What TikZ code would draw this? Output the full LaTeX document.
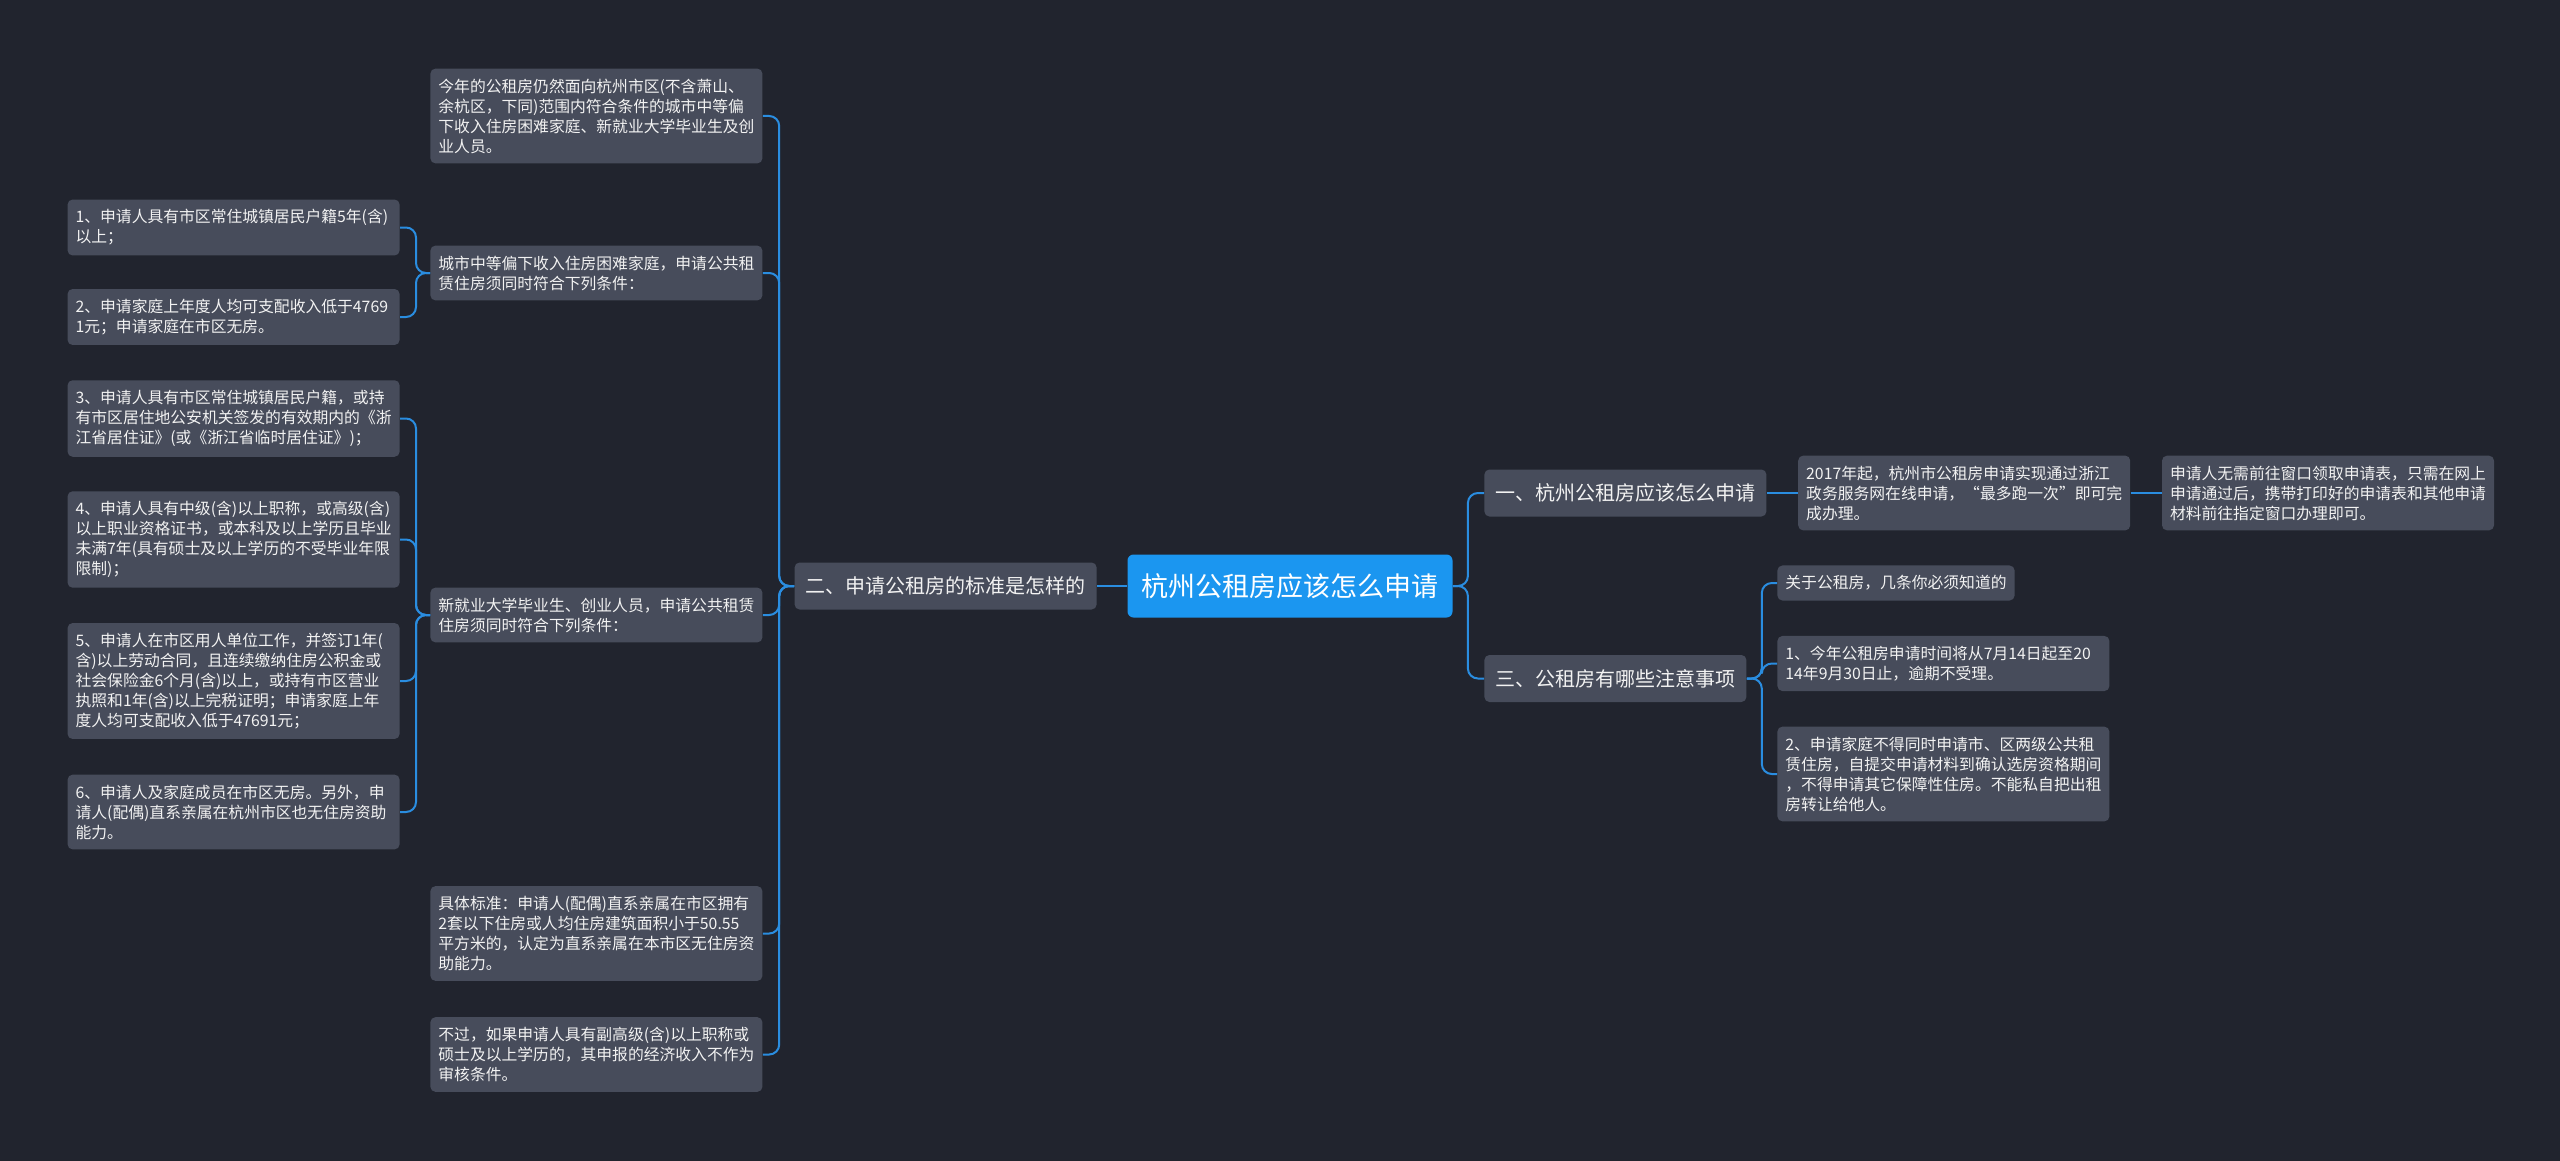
\documentclass[tikz,border=0pt]{standalone}
\usepackage{fontspec}
\setmainfont{Noto Sans CJK SC}
\usepackage{tikz}
\usetikzlibrary{positioning}
\definecolor{mmbg}{HTML}{21242E}
\definecolor{mmbox}{HTML}{474C5B}
\definecolor{mmroot}{HTML}{1B96F0}
\definecolor{mmline}{HTML}{2A8DE0}
\definecolor{mmtext}{HTML}{F2F2F2}

\begin{document}
\begin{tikzpicture}[x=0.5pt, y=-0.5pt,
  box/.style={fill=mmbox, rounded corners=2.5pt, text=mmtext, inner xsep=4pt, inner ysep=5pt,
              align=left, font=\fontsize{7.9pt}{10pt}\selectfont},
  leaf/.style={box, text width=158pt},
  topic/.style={fill=mmbox, rounded corners=2.5pt, text=mmtext, inner xsep=5.5pt,
                minimum height=23.5pt, font=\fontsize{10pt}{12pt}\selectfont},
  root/.style={fill=mmroot, rounded corners=3pt, text=white, inner xsep=7pt,
               minimum height=31.5pt, font=\fontsize{13.5pt}{16pt}\selectfont},
  link/.style={draw=mmline, line width=1pt, rounded corners=5pt}]
  \fill[mmbg] (0,0) rectangle (2560,1161);
  \useasboundingbox (0,0) rectangle (2560,1161);

  % centre and first level
  \node[root] (root) at (1290,586) {杭州公租房应该怎么申请};
  \node[topic, anchor=east] (q2) at (1097,586) {二、申请公租房的标准是怎样的};
  \node[topic, anchor=west] (q1) at (1484,493) {一、杭州公租房应该怎么申请};
  \node[topic, anchor=west] (q3) at (1484,678.5) {三、公租房有哪些注意事项};

  % left side
  \node[leaf, anchor=west] (a1) at (430,116) {今年的公租房仍然面向杭州市区(不含萧山、\\余杭区，下同)范围内符合条件的城市中等偏\\下收入住房困难家庭、新就业大学毕业生及创\\业人员。};
  \node[leaf, anchor=west] (a2) at (430,273) {城市中等偏下收入住房困难家庭，申请公共租\\赁住房须同时符合下列条件：};
  \node[leaf, anchor=west] (a3) at (430,615) {新就业大学毕业生、创业人员，申请公共租赁\\住房须同时符合下列条件：};
  \node[leaf, anchor=west] (a4) at (430,933.5) {具体标准：申请人(配偶)直系亲属在市区拥有\\2套以下住房或人均住房建筑面积小于50.55\\平方米的，认定为直系亲属在本市区无住房资\\助能力。};
  \node[leaf, anchor=west] (a5) at (430,1054.5) {不过，如果申请人具有副高级(含)以上职称或\\硕士及以上学历的，其申报的经济收入不作为\\审核条件。};

  \node[leaf, anchor=east] (c1) at (400,227.5) {1、申请人具有市区常住城镇居民户籍5年(含)\\以上；};
  \node[leaf, anchor=east] (c2) at (400,317) {2、申请家庭上年度人均可支配收入低于4769\\1元；申请家庭在市区无房。};
  \node[leaf, anchor=east] (e3) at (400,418.5) {3、申请人具有市区常住城镇居民户籍，或持\\有市区居住地公安机关签发的有效期内的《浙\\江省居住证》(或《浙江省临时居住证》)；};
  \node[leaf, anchor=east] (e4) at (400,539.5) {4、申请人具有中级(含)以上职称，或高级(含)\\以上职业资格证书，或本科及以上学历且毕业\\未满7年(具有硕士及以上学历的不受毕业年限\\限制)；};
  \node[leaf, anchor=east] (e5) at (400,681) {5、申请人在市区用人单位工作，并签订1年(\\含)以上劳动合同，且连续缴纳住房公积金或\\社会保险金6个月(含)以上，或持有市区营业\\执照和1年(含)以上完税证明；申请家庭上年\\度人均可支配收入低于47691元；};
  \node[leaf, anchor=east] (e6) at (400,812) {6、申请人及家庭成员在市区无房。另外，申\\请人(配偶)直系亲属在杭州市区也无住房资助\\能力。};

  % right side
  \node[leaf, right=15.5pt of q1] (r1) {2017年起，杭州市公租房申请实现通过浙江\\政务服务网在线申请，“最多跑一次”即可完\\成办理。};
  \node[leaf, right=15.5pt of r1] (r2) {申请人无需前往窗口领取申请表，只需在网上\\申请通过后，携带打印好的申请表和其他申请\\材料前往指定窗口办理即可。};
  \node[box, anchor=west] (n0) at (1777,583) {关于公租房，几条你必须知道的};
  \node[leaf, anchor=west] (n1) at (1777,663.5) {1、今年公租房申请时间将从7月14日起至20\\14年9月30日止，逾期不受理。};
  \node[leaf, anchor=west] (n2) at (1777,774) {2、申请家庭不得同时申请市、区两级公共租\\赁住房，自提交申请材料到确认选房资格期间\\，不得申请其它保障性住房。不能私自把出租\\房转让给他人。};

  % connectors
  \draw[link] (root.west) -- (q2.east);
  \foreach \n in {a1,a2,a3,a4,a5}
    \draw[link] (q2.west) -- ++(-15,0) |- (\n.east);
  \foreach \n in {c1,c2}
    \draw[link] (a2.west) -- ++(-14,0) |- (\n.east);
  \foreach \n in {e3,e4,e5,e6}
    \draw[link] (a3.west) -- ++(-14,0) |- (\n.east);
  \foreach \n in {q1,q3}
    \draw[link] (root.east) -- ++(15,0) |- (\n.west);
  \draw[link] (q1.east) -- (r1.west);
  \draw[link] (r1.east) -- (r2.west);
  \foreach \n in {n0,n1,n2}
    \draw[link] (q3.east) -- ++(15,0) |- (\n.west);
\end{tikzpicture}
\end{document}
